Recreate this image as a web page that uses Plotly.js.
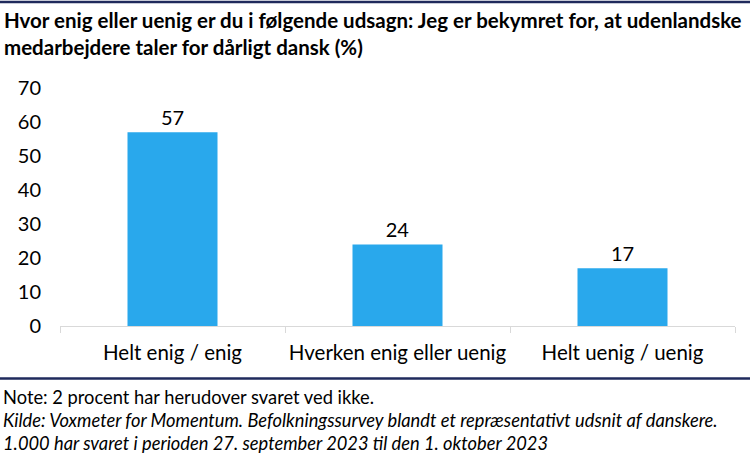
<!DOCTYPE html>
<html><head><meta charset="utf-8">
<script src="https://cdn.plot.ly/plotly-3.0.1.min.js"></script>
<style>html,body{margin:0;padding:0;background:#fff}#chart{width:750px;height:458px}</style>
</head><body><div id="chart"></div>
<script>
const categories = ["Helt enig / enig", "Hverken enig eller uenig", "Helt uenig / uenig"];
const values = [57, 24, 17];
const yTicks = [0, 10, 20, 30, 40, 50, 60, 70];
const titleLines = ["Hvor enig eller uenig er du i følgende udsagn: Jeg er bekymret for, at udenlandske", "medarbejdere taler for dårligt dansk (%)"];
const noteLines = ["Note: 2 procent har herudover svaret ved ikke.", "<i>Kilde: Voxmeter for Momentum. Befolkningssurvey blandt et repræsentativt udsnit af danskere.</i>", "<i>1.000 har svaret i perioden 27. september 2023 til den 1. oktober 2023</i>"];

const FONT = "Lato, 'Open Sans', sans-serif";
const W = 750, H = 458;
const m = {l: 60, r: 15, t: 88, b: 132};
function paperY(px){ return (H - m.b - px) / (H - m.t - m.b); }
function paperX(px){ return (px - m.l) / (W - m.l - m.r); }

const annotations = [];
titleLines.forEach((t, i) => annotations.push({
  xref: 'paper', yref: 'paper', x: paperX(2), y: paperY(20 + i * 27), xanchor: 'left', yanchor: 'middle',
  text: '<b>' + t + '</b>', showarrow: false, font: {family: FONT, size: 20.5, color: '#000'}
}));
noteLines.forEach((t, i) => annotations.push({
  xref: 'paper', yref: 'paper', x: paperX(1), y: paperY(397 + i * 23), xanchor: 'left', yanchor: 'middle',
  text: t, showarrow: false, font: {family: FONT, size: 18.3, color: '#000'}
}));

const shapes = [
  {type: 'line', xref: 'paper', yref: 'paper', x0: paperX(0), x1: paperX(750), y0: paperY(2), y1: paperY(2), line: {color: '#1f2a5c', width: 2.5}},
  {type: 'line', xref: 'paper', yref: 'paper', x0: paperX(0), x1: paperX(750), y0: paperY(378.5), y1: paperY(378.5), line: {color: '#1f2a5c', width: 2.5}}
];

Plotly.newPlot('chart', [{
  type: 'bar', x: categories, y: values, width: 0.4,
  marker: {color: '#29a8ec'},
  text: values.map(String), textposition: 'outside', cliponaxis: false,
  textfont: {family: FONT, size: 20, color: '#000'}
}], {
  width: W, height: H, margin: m,
  paper_bgcolor: '#fff', plot_bgcolor: '#fff',
  showlegend: false,
  xaxis: {type: 'category', showline: true, linecolor: '#d9d9d9', linewidth: 1, ticks: 'outside', tickson: 'boundaries',
    ticklen: 6, tickcolor: '#d9d9d9', showgrid: false, tickangle: 0, tickfont: {family: FONT, size: 20.5, color: '#000'}, ticklabelstandoff: 8, fixedrange: true},
  yaxis: {range: [0, 70], tickvals: yTicks, ticktext: yTicks.map(String), showgrid: false, zeroline: false, showline: false,
    tickfont: {family: FONT, size: 20, color: '#000'}, ticklabelstandoff: 18, fixedrange: true},
  annotations, shapes
}, {displayModeBar: false, staticPlot: true});
</script></body></html>
